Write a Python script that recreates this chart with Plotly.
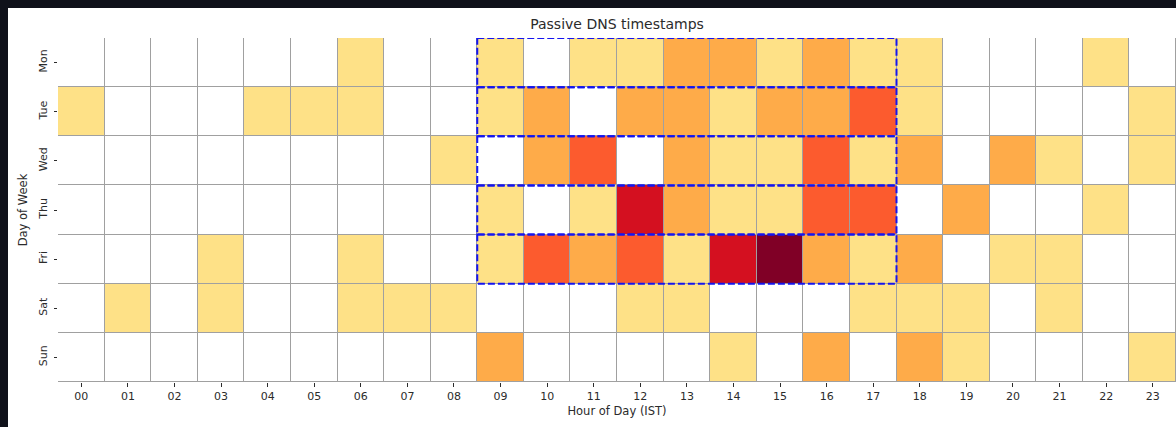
import plotly.graph_objects as go
import plotly.express as px

# Passive DNS observation counts per weekday (rows) and hour of day IST (columns)
days = ["Mon", "Tue", "Wed", "Thu", "Fri", "Sat", "Sun"]
hours = [f"{h:02d}" for h in range(24)]

mon = [0, 0, 0, 0, 0, 0, 1, 0, 0, 1, 0, 1, 1, 2, 2, 1, 2, 1, 1, 0, 0, 0, 1, 0]
tue = [1, 0, 0, 0, 1, 1, 1, 0, 0, 1, 2, 0, 2, 2, 1, 2, 2, 3, 1, 0, 0, 0, 0, 1]
wed = [0, 0, 0, 0, 0, 0, 0, 0, 1, 0, 2, 3, 0, 2, 1, 1, 3, 1, 2, 0, 2, 1, 0, 1]
thu = [0, 0, 0, 0, 0, 0, 0, 0, 0, 1, 0, 1, 4, 2, 1, 1, 3, 3, 0, 2, 0, 0, 1, 0]
fri = [0, 0, 0, 1, 0, 0, 1, 0, 0, 1, 3, 2, 3, 1, 4, 5, 2, 1, 2, 0, 1, 1, 0, 0]
sat = [0, 1, 0, 1, 0, 0, 1, 1, 1, 0, 0, 0, 1, 1, 0, 0, 0, 1, 1, 1, 0, 1, 0, 0]
sun = [0, 0, 0, 0, 0, 0, 0, 0, 0, 2, 0, 0, 0, 0, 1, 0, 2, 0, 2, 1, 0, 0, 0, 1]

# Business window highlighted on the grid
work_days = days[:5]
work_start, work_end = 9, 17

counts = [mon, tue, wed, thu, fri, sat, sun]
zmax = max(max(r) for r in counts)

# YlOrRd with empty (zero) cells shown as white
ylorrd = px.colors.sequential.YlOrRd
colorscale = [[0.0, "#ffffff"], [0.1, "#ffffff"]]
colorscale += [[i / (len(ylorrd) - 1), c] for i, c in enumerate(ylorrd)
               if i / (len(ylorrd) - 1) > 0.1]

W, H = 1176, 427
ML, MR, MT, MB = 58, 0, 38, 45
FRAME = 8
FRAME_COLOR = "#0f111a"
TEXT = "#2b2b2b"
FONT = "DejaVu Sans"

fig = go.Figure(go.Heatmap(
    z=counts,
    x=list(range(len(hours))),
    y=list(range(len(days))),
    zmin=0, zmax=zmax,
    colorscale=colorscale,
    showscale=False,
    xgap=1, ygap=1,
    hovertemplate="%{y} %{x}: %{z}<extra></extra>",
))

shapes = []
for d in work_days:
    i = days.index(d)
    shapes.append(dict(
        type="rect", xref="x", yref="y",
        x0=work_start - 0.5, x1=work_end + 0.5, y0=i - 0.5, y1=i + 0.5,
        line=dict(color="#1414f0", width=2, dash="7px,3px"),
        fillcolor="rgba(0,0,0,0)", layer="above",
    ))

# dark window frame along top and left edges
pw, ph = W - ML - MR, H - MT - MB
px0 = -ML / pw
py_top = (H - MB) / ph
py_bot = -MB / ph
shapes.append(dict(type="rect", xref="paper", yref="paper",
                   x0=px0, x1=(FRAME - ML) / pw, y0=py_bot, y1=py_top,
                   fillcolor=FRAME_COLOR, line=dict(width=0), layer="above"))
shapes.append(dict(type="rect", xref="paper", yref="paper",
                   x0=px0, x1=1.01, y0=(H - MB - FRAME) / ph, y1=py_top,
                   fillcolor=FRAME_COLOR, line=dict(width=0), layer="above"))

fig.update_layout(
    width=W, height=H,
    margin=dict(l=ML, r=MR, t=MT, b=MB),
    paper_bgcolor="white",
    plot_bgcolor="#a0a0a0",
    font=dict(family=FONT, color=TEXT, size=11),
    title=dict(text="Passive DNS timestamps", x=(ML + pw / 2) / W, xanchor="center",
               y=1 - 24 / H, yanchor="middle", yref="container",
               font=dict(size=14, color=TEXT, family=FONT)),
    shapes=shapes,
    showlegend=False,
)
fig.update_xaxes(
    range=[-0.5, len(hours) - 0.5],
    tickmode="array", tickvals=list(range(len(hours))), ticktext=hours,
    ticks="outside", ticklen=3.5, tickwidth=1, tickcolor=TEXT,
    showgrid=False, zeroline=False, showline=False,
    title=dict(text="Hour of Day (IST)", standoff=5, font=dict(size=11.5)),
    tickfont=dict(size=11),
)
fig.update_yaxes(
    range=[len(days) - 0.5, -0.5],
    tickmode="array", tickvals=list(range(len(days))), ticktext=days,
    tickangle=-90, ticklabelstandoff=2,
    ticks="outside", ticklen=3.5, tickwidth=1, tickcolor=TEXT,
    showgrid=False, zeroline=False, showline=False,
    title=dict(text="Day of Week", standoff=7, font=dict(size=11.5)),
    tickfont=dict(size=11),
)

fig.write_html("out.html")
